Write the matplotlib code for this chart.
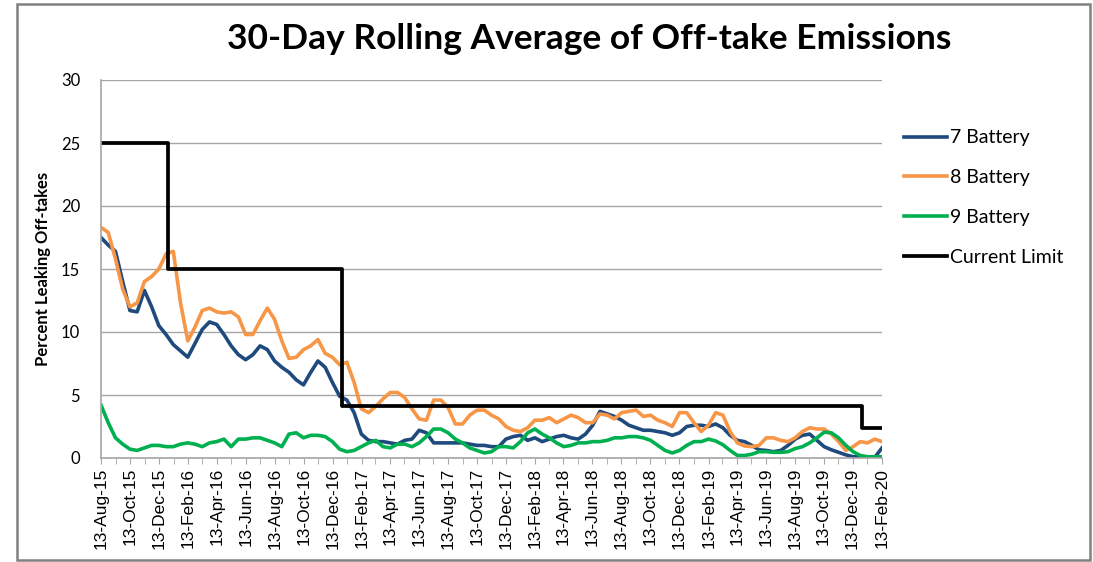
import numpy as np
import pandas as pd
import matplotlib
matplotlib.use('Agg')
import matplotlib.pyplot as plt
import matplotlib.dates as mdates
from matplotlib.patches import Rectangle

# readings every half month from 13-Aug-15 to 13-Feb-20 (109 points)
start, end = '2015-08-13', '2020-02-13'

bat7 = [17.5, 16.9, 16.4, 14.0, 11.7, 11.6, 13.3, 12.0, 10.5, 9.8,
        9.0, 8.5, 8.0, 9.1, 10.2, 10.8, 10.6, 9.8, 8.9, 8.2,
        7.8, 8.2, 8.9, 8.6, 7.7, 7.2, 6.8, 6.2, 5.8, 6.8,
        7.7, 7.2, 6.0, 4.9, 4.6, 3.6, 1.9, 1.4, 1.3, 1.3,
        1.2, 1.1, 1.4, 1.5, 2.2, 2.0, 1.2, 1.2, 1.2, 1.2,
        1.2, 1.1, 1.0, 1.0, 0.9, 0.9, 1.5, 1.7, 1.8, 1.4,
        1.6, 1.3, 1.5, 1.7, 1.8, 1.6, 1.5, 1.9, 2.6, 3.7,
        3.5, 3.3, 3.0, 2.6, 2.4, 2.2, 2.2, 2.1, 2.0, 1.8,
        2.0, 2.5, 2.6, 2.6, 2.5, 2.7, 2.4, 1.8, 1.4, 1.3,
        1.0, 0.65, 0.6, 0.5, 0.6, 1.0, 1.5, 1.8, 1.9, 1.4,
        0.9, 0.65, 0.45, 0.25, 0.1, 0.1, 0.05, 0.05, 0.8]

bat8 = [18.3, 17.9, 15.8, 13.4, 12.0, 12.3, 14.0, 14.4, 15.0, 16.2,
        16.4, 12.3, 9.3, 10.4, 11.7, 11.9, 11.6, 11.5, 11.6, 11.2,
        9.8, 9.8, 10.9, 11.9, 11.0, 9.3, 7.9, 8.0, 8.6, 8.9,
        9.4, 8.3, 8.0, 7.4, 7.6, 6.0, 3.9, 3.6, 4.1, 4.7,
        5.2, 5.2, 4.8, 3.9, 3.1, 3.0, 4.6, 4.6, 4.0, 2.7,
        2.7, 3.4, 3.8, 3.8, 3.4, 3.1, 2.5, 2.2, 2.1, 2.4,
        3.0, 3.0, 3.2, 2.8, 3.1, 3.4, 3.2, 2.8, 2.8, 3.5,
        3.4, 3.1, 3.6, 3.7, 3.8, 3.3, 3.4, 3.0, 2.8, 2.5,
        3.6, 3.6, 2.8, 2.1, 2.6, 3.6, 3.4, 2.1, 1.2, 0.95,
        0.9, 1.0, 1.6, 1.6, 1.4, 1.3, 1.6, 2.1, 2.4, 2.3,
        2.3, 1.9, 1.3, 0.6, 0.9, 1.3, 1.2, 1.5, 1.3]

bat9 = [4.2, 2.8, 1.6, 1.1, 0.7, 0.6, 0.8, 1.0, 1.0, 0.9,
        0.9, 1.1, 1.2, 1.1, 0.9, 1.2, 1.3, 1.5, 0.9, 1.5,
        1.5, 1.6, 1.6, 1.4, 1.2, 0.9, 1.9, 2.0, 1.6, 1.8,
        1.8, 1.7, 1.3, 0.7, 0.5, 0.6, 0.9, 1.2, 1.4, 0.9,
        0.8, 1.1, 1.1, 0.9, 1.2, 1.7, 2.3, 2.3, 2.0, 1.5,
        1.2, 0.8, 0.6, 0.4, 0.5, 0.9, 0.9, 0.8, 1.3, 2.0,
        2.3, 1.9, 1.6, 1.2, 0.9, 1.0, 1.2, 1.2, 1.3, 1.3,
        1.4, 1.6, 1.6, 1.7, 1.7, 1.6, 1.4, 1.0, 0.6, 0.4,
        0.6, 1.0, 1.3, 1.3, 1.5, 1.35, 1.05, 0.6, 0.2, 0.2,
        0.3, 0.5, 0.5, 0.45, 0.45, 0.5, 0.75, 0.9, 1.2, 1.6,
        2.05, 2.0, 1.6, 1.0, 0.5, 0.2, 0.1, 0.1, 0.1]

limit_dates = ['2015-08-13', '2016-01-01', '2017-01-01', '2020-01-01', '2020-02-13']
limit_vals = [25, 15, 4.1, 2.4, 2.4]

series_names = ['7 Battery', '8 Battery', '9 Battery', 'Current Limit']
colors = ['#1F4A7E', '#F79646', '#00B050', '#000000']

dates = pd.date_range(start, end, periods=len(bat7))

fig = plt.figure(figsize=(10.93, 5.62), dpi=100)
ax = fig.add_axes([101/1093, 1-458/562, (882-101)/1093, (458-80)/562])

for vals, name, c in zip([bat7, bat8, bat9], series_names[:3], colors[:3]):
    ax.plot(dates, vals, color=c, lw=2.6, label=name, solid_joinstyle='round')
ax.plot(pd.to_datetime(limit_dates), limit_vals, color=colors[3], lw=2.7,
        drawstyle='steps-post', label=series_names[3])

ax.set_xlim(pd.Timestamp(start), pd.Timestamp(end))
ax.set_ylim(0, 30)
ax.set_yticks(np.arange(0, 31, 5))
ax.yaxis.grid(True, color='#A6A6A6', lw=1)
ax.set_axisbelow(True)

ax.xaxis.set_major_locator(mdates.MonthLocator(bymonth=[2, 4, 6, 8, 10, 12], bymonthday=13))
ax.xaxis.set_minor_locator(mdates.MonthLocator(bymonthday=13))
ax.xaxis.set_major_formatter(mdates.DateFormatter('%d-%b-%y'))
ax.tick_params(axis='x', which='both', direction='out', length=4, color='#A6A6A6', pad=3)
ax.tick_params(axis='x', labelrotation=90, labelsize=12.5, labelfontfamily='Liberation Sans')
ax.tick_params(axis='y', length=0, pad=15, labelsize=12, labelfontfamily='Lato')

for s in ['top', 'right']:
    ax.spines[s].set_visible(False)
for s in ['left', 'bottom']:
    ax.spines[s].set_color('#A6A6A6')
    ax.spines[s].set_linewidth(1.2)

ax.set_ylabel('Percent Leaking Off-takes', fontfamily='Lato', fontweight='bold', fontsize=12)
ax.yaxis.set_label_coords(-0.064, 0.5)

fig.text(0.539, 0.93, '30-Day Rolling Average of Off-take Emissions', ha='center', va='center',
         fontfamily='Lato', fontweight='bold', fontsize=25.5)

leg = ax.legend(loc='upper left', bbox_to_anchor=(886/1093, 1-112/562), bbox_transform=fig.transFigure,
                frameon=False, handlelength=2.26, handletextpad=0.15, labelspacing=1.17,
                prop={'family': 'Lato', 'size': 14})

fig.patches.append(Rectangle((17/1093, 2/562), (1090-17)/1093, (558-2)/562, transform=fig.transFigure,
                             fill=False, edgecolor='#808080', lw=1.8))

fig.savefig('out.png', dpi=100)
